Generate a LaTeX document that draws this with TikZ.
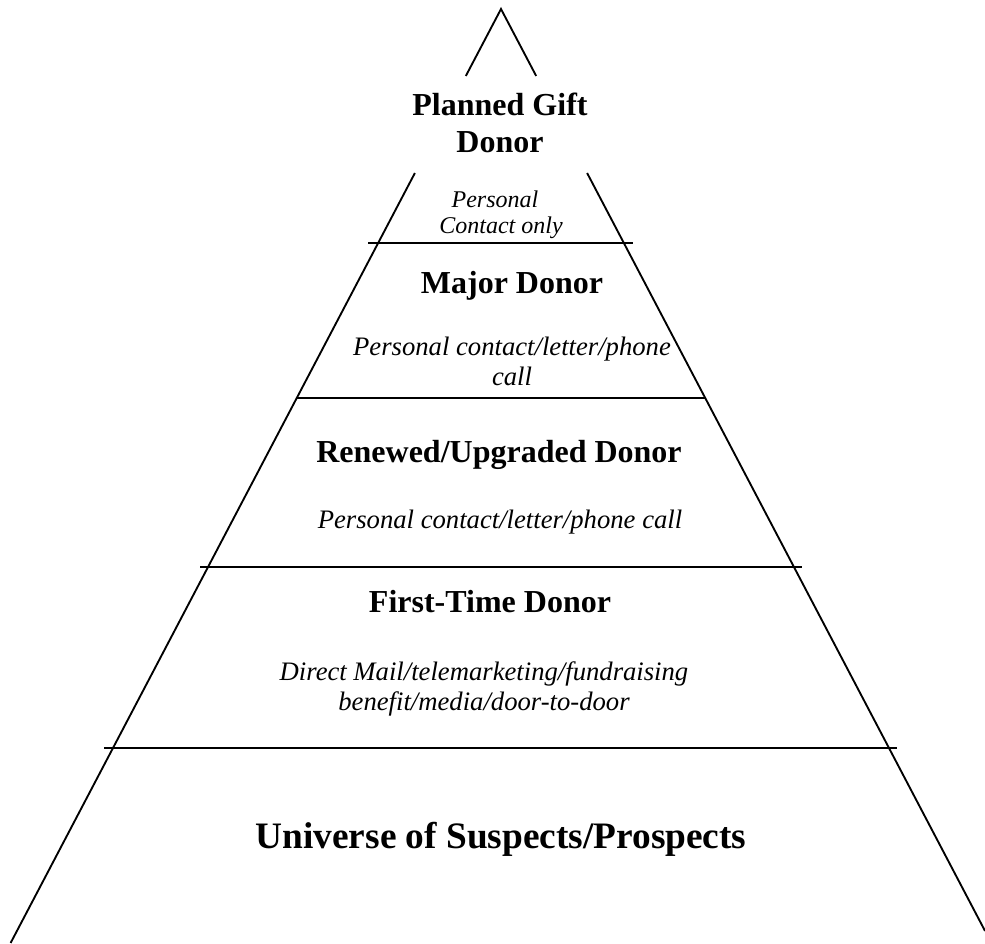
\documentclass[tikz,border=0pt]{standalone}
\usepackage{fontspec}
\setmainfont{Liberation Serif}
\begin{document}
\begin{tikzpicture}[x=0.75pt,y=-0.75pt,
  edge/.style={line width=1.4pt},
  tier/.style={font=\fontsize{24}{28}\selectfont\bfseries,anchor=base,inner sep=0pt},
  big/.style={font=\fontsize{28}{32}\selectfont\bfseries,anchor=base,inner sep=0pt},
  how/.style={font=\fontsize{20}{24}\selectfont\itshape,anchor=base,inner sep=0pt},
  small/.style={font=\fontsize{18}{22}\selectfont\itshape,anchor=base,inner sep=0pt}]
\useasboundingbox (0,0) rectangle (985,943);
% pyramid edges
\coordinate (apex) at (501,9);
\coordinate (lt) at (465.8,76);
\coordinate (rt) at (536.2,76);
\coordinate (lb) at (414.9,173);
\coordinate (rb) at (587.1,173);
\coordinate (lbot) at (10.6,943);
\coordinate (rbot) at (985,930.9);
\draw[edge] (lt) -- (apex) -- (rt);
\draw[edge] (lb) -- (lbot);
\draw[edge] (rb) -- (rbot);
% dividing lines
\coordinate (h1l) at (368,243); \coordinate (h1r) at (633,243);
\coordinate (h2l) at (296.5,398); \coordinate (h2r) at (705.5,398);
\coordinate (h3l) at (200,567); \coordinate (h3r) at (802,567);
\coordinate (h4l) at (104,748); \coordinate (h4r) at (897,748);
\draw[edge] (h1l) -- (h1r);
\draw[edge] (h2l) -- (h2r);
\draw[edge] (h3l) -- (h3r);
\draw[edge] (h4l) -- (h4r);
% texts
\node[tier] (pg1) at (500,115) {Planned Gift};
\node[tier] (pg2) at (500,152) {Donor};
\node[small] (pc1) at (495,207) {Personal};
\node[small] (pc2) at (501,233) {Contact only};
\node[tier] (maj) at (512,293) {Major Donor};
\node[how] (mh1) at (512,355) {Personal contact/letter/phone};
\node[how] (mh2) at (512,385) {call};
\node[tier] (ren) at (499,462) {Renewed/Upgraded Donor};
\node[how] (rh) at (500,528) {Personal contact/letter/phone call};
\node[tier] (ft) at (490,612) {First-Time Donor};
\node[how] (fh1) at (484,680) {Direct Mail/telemarketing/fundraising};
\node[how] (fh2) at (484,710) {benefit/media/door-to-door};
\node[big] (uni) at (501,848) {Universe of Suspects/Prospects};
\end{tikzpicture}
\end{document}
